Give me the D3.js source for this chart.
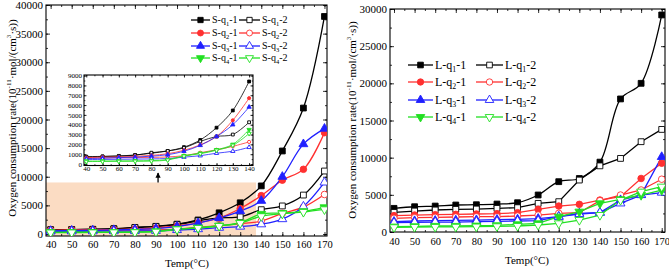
<!DOCTYPE html>
<html>
<head>
<meta charset="utf-8">
<script src="https://cdn.jsdelivr.net/npm/d3@7"></script>
<style>
  body { margin: 0; background: #fff; }
  svg text { font-family: "Liberation Serif", "Times New Roman", serif; fill: #000; }
</style>
</head>
<body>
<div id="chart"></div>
<script>
// temperatures (°C)
const temps = [40, 50, 60, 70, 80, 90, 100, 110, 120, 130, 140, 150, 160, 170];
const xTicks = [40, 50, 60, 70, 80, 90, 100, 110, 120, 130, 140, 150, 160, 170];
const leftYTicks = [0, 5000, 10000, 15000, 20000, 25000, 30000, 35000, 40000];
const rightYTicks = [0, 5000, 10000, 15000, 20000, 25000, 30000];
const insetXTicks = [40, 50, 60, 70, 80, 90, 100, 110, 120, 130, 140];
const insetYTicks = [0, 1000, 2000, 3000, 4000, 5000, 6000, 7000, 8000, 9000];

// S samples
const sQ1_1 = [750, 780, 830, 920, 1100, 1330, 1720, 2450, 3700, 5450, 8400, 14500, 22000, 38000];
const sQ1_2 = [700, 760, 800, 900, 1150, 1330, 1650, 2300, 2800, 3000, 4250, 4900, 6800, 11000];
const sQ2_1 = [650, 700, 720, 780, 880, 1050, 1400, 1950, 2800, 4450, 6700, 9400, 11300, 17700];
const sQ2_2 = [600, 620, 640, 650, 680, 720, 850, 1150, 1450, 1800, 2250, 3600, 4700, 6900];
const sQ3_1 = [550, 600, 650, 700, 800, 950, 1300, 1900, 2800, 4000, 5800, 10000, 15700, 18400];
const sQ3_2 = [450, 470, 480, 500, 520, 560, 700, 850, 1100, 1300, 1700, 2600, 4800, 9000];
const sQ4_1 = [300, 310, 320, 330, 350, 450, 850, 1100, 1450, 2000, 3500, 3650, 3950, 4650];
const sQ4_2 = [250, 260, 270, 280, 300, 400, 800, 1050, 1400, 1900, 3100, 3550, 3850, 4300];

// L samples
const lQ1_1 = [3180, 3400, 3490, 3630, 3670, 3760, 3940, 4980, 6770, 7200, 9400, 17900, 20000, 29200];
const lQ1_2 = [2640, 2820, 2960, 3050, 3090, 3180, 3270, 3850, 4080, 6990, 8900, 9900, 12150, 13800];
const lQ2_1 = [2200, 2280, 2330, 2370, 2420, 2460, 2600, 3050, 3490, 3720, 4300, 4750, 7200, 9250];
const lQ2_2 = [1840, 1930, 1970, 2020, 2060, 2060, 2150, 2280, 2510, 2600, 4210, 4970, 5650, 7100];
const lQ3_1 = [1390, 1480, 1520, 1570, 1610, 1660, 1700, 1790, 2060, 2510, 2600, 4300, 5000, 10100];
const lQ3_2 = [1250, 1300, 1340, 1340, 1390, 1430, 1480, 1520, 2060, 2420, 2600, 3850, 4970, 5300];
const lQ4_1 = [720, 760, 810, 810, 850, 900, 1030, 1160, 2060, 2730, 3850, 4390, 4970, 5640];
const lQ4_2 = [630, 670, 680, 700, 720, 760, 810, 940, 1160, 1610, 2280, 4300, 5420, 6090];

const BLACK = "#000", RED = "#ff3030", BLUE = "#2020ff", GREEN = "#22e022";

const sSeries = [
  { q: 1, n: 1, values: sQ1_1, color: BLACK, shape: "square", filled: true },
  { q: 1, n: 2, values: sQ1_2, color: BLACK, shape: "square", filled: false },
  { q: 2, n: 1, values: sQ2_1, color: RED, shape: "circle", filled: true },
  { q: 2, n: 2, values: sQ2_2, color: RED, shape: "circle", filled: false },
  { q: 3, n: 1, values: sQ3_1, color: BLUE, shape: "up", filled: true },
  { q: 3, n: 2, values: sQ3_2, color: BLUE, shape: "up", filled: false },
  { q: 4, n: 1, values: sQ4_1, color: GREEN, shape: "down", filled: true },
  { q: 4, n: 2, values: sQ4_2, color: GREEN, shape: "down", filled: false }
];
const lSeries = [
  { q: 1, n: 1, values: lQ1_1, color: BLACK, shape: "square", filled: true, smooth: true },
  { q: 1, n: 2, values: lQ1_2, color: BLACK, shape: "square", filled: false },
  { q: 2, n: 1, values: lQ2_1, color: RED, shape: "circle", filled: true },
  { q: 2, n: 2, values: lQ2_2, color: RED, shape: "circle", filled: false },
  { q: 3, n: 1, values: lQ3_1, color: BLUE, shape: "up", filled: true },
  { q: 3, n: 2, values: lQ3_2, color: BLUE, shape: "up", filled: false },
  { q: 4, n: 1, values: lQ4_1, color: GREEN, shape: "down", filled: true },
  { q: 4, n: 2, values: lQ4_2, color: GREEN, shape: "down", filled: false }
];

const svg = d3.select("#chart").append("svg")
  .attr("width", 669)
  .attr("height", 270);

const symbolOf = {
  square: d3.symbolSquare, circle: d3.symbolCircle, up: d3.symbolTriangle, down: d3.symbolTriangle
};

function marker(g, s, x, y, size) {
  g.append("path")
    .attr("d", d3.symbol().type(symbolOf[s.shape]).size(size)())
    .attr("transform", `translate(${x},${y})` + (s.shape === "down" ? " rotate(180)" : ""))
    .attr("fill", s.filled ? s.color : "#fff")
    .attr("stroke", s.color)
    .attr("stroke-width", 0.9);
}

// o = {xfs, yfs, major, minor, xpad, ypad}
function drawAxes(g, x, y, xt, yt, xMinor, yMinor, o) {
  const [x0, x1] = x.range(), [y0, y1] = y.range();
  // minor ticks
  g.append("g").attr("transform", `translate(0,${y0})`)
    .call(d3.axisBottom(x).tickValues(xMinor).tickSize(-o.minor).tickFormat(""));
  g.append("g").attr("transform", `translate(0,${y1})`)
    .call(d3.axisTop(x).tickValues(xMinor).tickSize(-o.minor).tickFormat(""));
  g.append("g").attr("transform", `translate(${x0},0)`)
    .call(d3.axisLeft(y).tickValues(yMinor).tickSize(-o.minor).tickFormat(""));
  g.append("g").attr("transform", `translate(${x1},0)`)
    .call(d3.axisRight(y).tickValues(yMinor).tickSize(-o.minor).tickFormat(""));
  // major ticks + labels
  g.append("g").attr("class", "axx").attr("transform", `translate(0,${y0})`)
    .call(d3.axisBottom(x).tickValues(xt).tickSize(-o.major).tickPadding(o.xpad));
  g.append("g").attr("transform", `translate(0,${y1})`)
    .call(d3.axisTop(x).tickValues(xt).tickSize(-o.major).tickFormat(""));
  g.append("g").attr("class", "axy").attr("transform", `translate(${x0},0)`)
    .call(d3.axisLeft(y).tickValues(yt).tickSize(-o.major).tickPadding(o.ypad).tickFormat(d3.format("d")));
  g.append("g").attr("transform", `translate(${x1},0)`)
    .call(d3.axisRight(y).tickValues(yt).tickSize(-o.major).tickFormat(""));
  g.selectAll(".domain").remove();
  g.selectAll(".tick line").attr("stroke", "#000").attr("stroke-width", 0.8);
  g.selectAll(".axx text").attr("font-size", o.xfs);
  g.selectAll(".axy text").attr("font-size", o.yfs);
  g.append("rect")
    .attr("x", x0).attr("y", y1)
    .attr("width", x1 - x0).attr("height", y0 - y1)
    .attr("fill", "none").attr("stroke", "#000").attr("stroke-width", 1.1);
}

function drawSeries(g, x, y, series, maxT, size, lw, curve) {
  series.forEach(s => {
    const pts = temps.map((t, i) => [t, s.values[i]]).filter(p => p[0] <= maxT);
    g.append("path")
      .datum(pts)
      .attr("fill", "none")
      .attr("stroke", s.color)
      .attr("stroke-width", lw)
      .attr("d", d3.line()
        .curve(curve || (s.smooth ? d3.curveCatmullRom : d3.curveLinear))
        .x(p => x(p[0])).y(p => y(p[1])));
  });
  series.forEach(s => {
    temps.forEach((t, i) => {
      if (t <= maxT) marker(g, s, x(t), y(s.values[i]), size);
    });
  });
}

function legend(g, series, prefix, x1, x2, rowY, fs, msize) {
  series.forEach(s => {
    const lx = s.n === 1 ? x1 : x2;
    const yy = rowY[s.q - 1];
    g.append("line")
      .attr("x1", lx[0]).attr("x2", lx[1]).attr("y1", yy).attr("y2", yy)
      .attr("stroke", s.color).attr("stroke-width", 1.3);
    marker(g, s, (lx[0] + lx[1]) / 2, yy, msize);
    const t = g.append("text").attr("x", lx[1] + 2).attr("y", yy + fs * 0.33).attr("font-size", fs);
    t.append("tspan").text(prefix + "-q");
    t.append("tspan").attr("dy", fs * 0.25).attr("font-size", fs * 0.65).text(s.q);
    t.append("tspan").attr("dy", -fs * 0.25).text("-" + s.n);
  });
}

function yTitle(x, y, fs) {
  const t = svg.append("text")
    .attr("transform", `translate(${x},${y}) rotate(-90)`)
    .attr("text-anchor", "middle")
    .attr("font-size", fs);
  t.append("tspan").text("Oxygen consumption rate(10");
  t.append("tspan").attr("dy", -fs * 0.4).attr("font-size", fs * 0.65).text("-11");
  t.append("tspan").attr("dy", fs * 0.4).text("·mol/(cm");
  t.append("tspan").attr("dy", -fs * 0.4).attr("font-size", fs * 0.65).text("3");
  t.append("tspan").attr("dy", fs * 0.4).text("·s))");
}

function xTitle(x, y, fs) {
  svg.append("text").attr("x", x).attr("y", y)
    .attr("text-anchor", "middle").attr("font-size", fs)
    .text("Temp(°C)");
}

const minorX = d3.range(40, 171, 5);

// ---------- left panel ----------
const xL = d3.scaleLinear().domain([37.8, 171.2]).range([46, 327]);
const yL = d3.scaleLinear().domain([-350, 40000]).range([236, 5]);
const gL = svg.append("g");

gL.append("rect")
  .attr("x", 46).attr("y", yL(9000))
  .attr("width", xL(137.5) - 46).attr("height", 236 - yL(9000))
  .attr("fill", "#fbdcc3");

drawAxes(gL, xL, yL, xTicks, leftYTicks, minorX, d3.range(0, 40001, 2500),
  { xfs: 10.5, yfs: 11, major: 4, minor: 2, xpad: 5, ypad: 3 });

const clipL = svg.append("clipPath").attr("id", "clipL");
clipL.append("rect").attr("x", 46).attr("y", 5).attr("width", 281).attr("height", 231);
const dataL = gL.append("g").attr("clip-path", "url(#clipL)");
drawSeries(dataL, xL, yL, sSeries, 170, 34, 1.3, d3.curveCatmullRom);

legend(gL, sSeries, "S", [191, 210], [239, 260], [20, 33, 46, 58], 10, 28);

// inset
const xI = d3.scaleLinear().domain([38.6, 142.4]).range([84, 253]);
const yI = d3.scaleLinear().domain([-150, 9060]).range([165.5, 75]);
const gI = svg.append("g");
gI.append("rect").attr("x", 84).attr("y", 75).attr("width", 169).attr("height", 90.5).attr("fill", "#fff");
drawAxes(gI, xI, yI, insetXTicks, insetYTicks, d3.range(40, 141, 5), d3.range(0, 9001, 500),
  { xfs: 7, yfs: 7, major: 2.5, minor: 1.3, xpad: 1, ypad: 2 });
const clipI = svg.append("clipPath").attr("id", "clipI");
clipI.append("rect").attr("x", 84).attr("y", 75).attr("width", 169).attr("height", 90.5);
const dataI = gI.append("g").attr("clip-path", "url(#clipI)");
drawSeries(dataI, xI, yI, sSeries, 140, 8, 0.8, d3.curveCatmullRom);

// arrow from the shaded region up to the inset
const ax = xL(91);
svg.append("defs").append("marker")
  .attr("id", "arrowhead").attr("viewBox", "0 0 10 10")
  .attr("refX", 9).attr("refY", 5)
  .attr("markerWidth", 4).attr("markerHeight", 5).attr("orient", "auto")
  .append("path").attr("d", "M0,0L10,5L0,10z").attr("fill", "#000");
svg.append("line")
  .attr("x1", ax).attr("x2", ax).attr("y1", yL(9000)).attr("y2", 173)
  .attr("stroke", "#000").attr("stroke-width", 1.3)
  .attr("marker-end", "url(#arrowhead)");

yTitle(15.5, 118, 11);
xTitle(187, 267, 11);

// ---------- right panel ----------
const xR = d3.scaleLinear().domain([38.05, 171.6]).range([390, 665]);
const yR = d3.scaleLinear().domain([0, 30000]).range([232, 9]);
const gR = svg.append("g");
drawAxes(gR, xR, yR, xTicks, rightYTicks, minorX, d3.range(0, 30001, 2500),
  { xfs: 10.5, yfs: 11, major: 4, minor: 2, xpad: 6, ypad: 3 });
const clipR = svg.append("clipPath").attr("id", "clipR");
clipR.append("rect").attr("x", 390).attr("y", 9).attr("width", 275).attr("height", 223);
const dataR = gR.append("g").attr("clip-path", "url(#clipR)");
drawSeries(dataR, xR, yR, lSeries, 170, 34, 1.3);

legend(gR, lSeries, "L", [408, 433], [476, 503], [65, 82, 100, 117], 12, 32);

yTitle(355.5, 120, 11);
xTitle(527, 264, 11);
</script>
</body>
</html>
